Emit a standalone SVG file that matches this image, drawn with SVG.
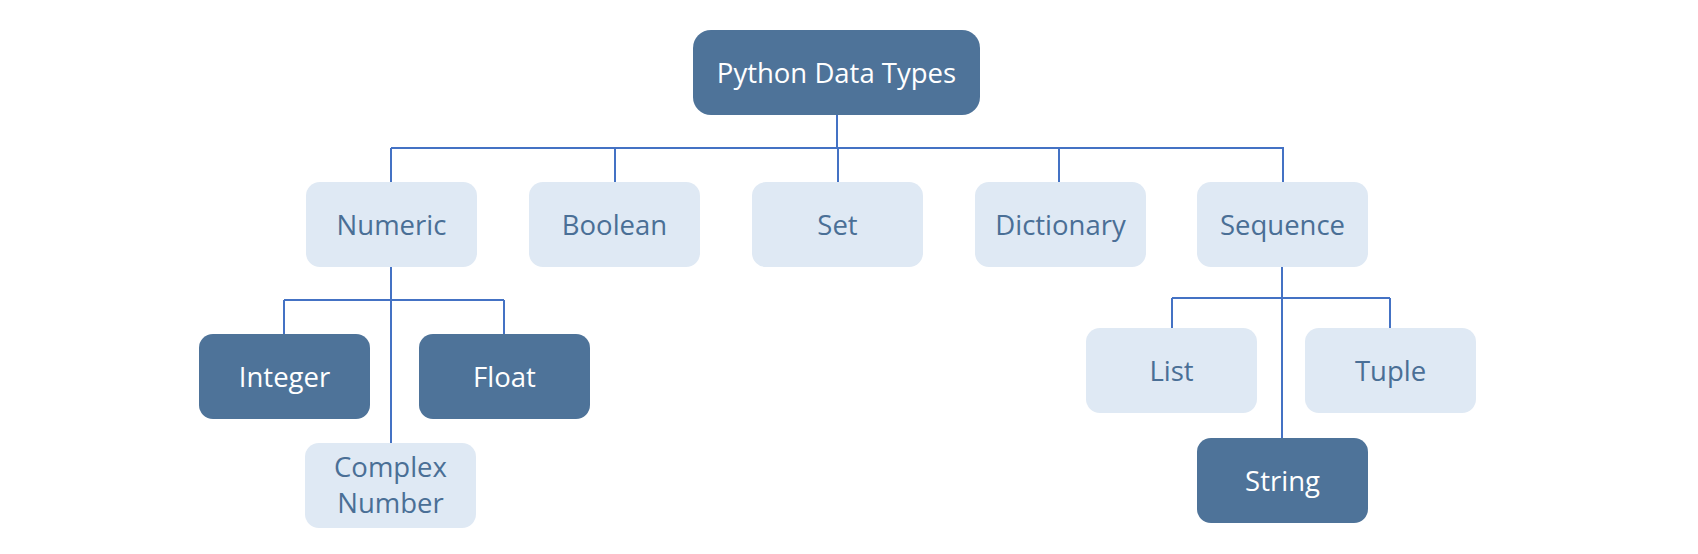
<svg xmlns="http://www.w3.org/2000/svg" width="1698" height="554" viewBox="0 0 1698 554">
<style>
.dark{fill:#4e7399}
.light{fill:#dfe9f4}
text{font-family:"Open Sans","Noto Sans","Liberation Sans",sans-serif;font-size:27.5px;text-anchor:middle}
.dt{fill:#ffffff}
.lt{fill:#4a6f96}
.conn{stroke:#4472c4;stroke-width:2;fill:none}
</style>
<rect width="1698" height="554" fill="#ffffff"/>
<g id="connectors">
<path class="conn" d="M837 115V148M391 148H1284M391 148V182M615 148V182M838 148V182M1059 148V182M1283 148V182"/>
<path class="conn" d="M391 267V443M284 300H504M284 300V334M504 300V334"/>
<path class="conn" d="M1282 267V438M1172 298H1390M1172 298V328M1390 298V328"/>
</g>
<g id="python"><rect class="dark" x="693" y="30" width="287" height="85" rx="18"/><text class="dt" x="836.5" y="83">Python Data Types</text></g>
<g id="numeric"><rect class="light" x="306" y="182" width="171" height="85" rx="14"/><text class="lt" x="391.5" y="235">Numeric</text></g>
<g id="boolean"><rect class="light" x="529" y="182" width="171" height="85" rx="14"/><text class="lt" x="614.5" y="235">Boolean</text></g>
<g id="set"><rect class="light" x="752" y="182" width="171" height="85" rx="14"/><text class="lt" x="837.5" y="235">Set</text></g>
<g id="dictionary"><rect class="light" x="975" y="182" width="171" height="85" rx="14"/><text class="lt" x="1060.5" y="235">Dictionary</text></g>
<g id="sequence"><rect class="light" x="1197" y="182" width="171" height="85" rx="14"/><text class="lt" x="1282.5" y="235">Sequence</text></g>
<g id="integer"><rect class="dark" x="199" y="334" width="171" height="85" rx="14"/><text class="dt" x="284.5" y="387">Integer</text></g>
<g id="float"><rect class="dark" x="419" y="334" width="171" height="85" rx="14"/><text class="dt" x="504.5" y="387">Float</text></g>
<g id="complex"><rect class="light" x="305" y="443" width="171" height="85" rx="14"/><text class="lt" x="390.5" y="477">Complex</text><text class="lt" x="390.5" y="513">Number</text></g>
<g id="list"><rect class="light" x="1086" y="328" width="171" height="85" rx="14"/><text class="lt" x="1171.5" y="381">List</text></g>
<g id="tuple"><rect class="light" x="1305" y="328" width="171" height="85" rx="14"/><text class="lt" x="1390.5" y="381">Tuple</text></g>
<g id="string"><rect class="dark" x="1197" y="438" width="171" height="85" rx="14"/><text class="dt" x="1282.5" y="491">String</text></g>
</svg>
